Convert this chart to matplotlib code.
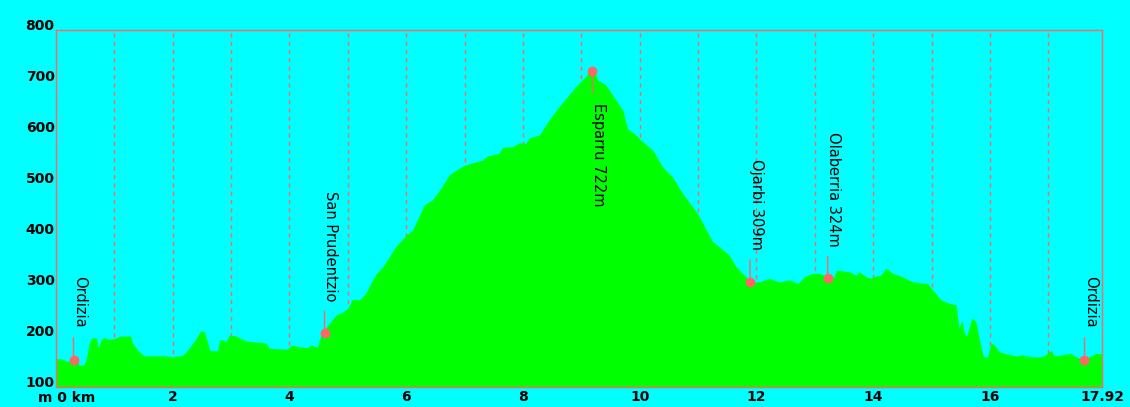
import matplotlib
matplotlib.use('Agg')
import matplotlib.pyplot as plt
import numpy as np

BG = '#00ffff'
FILL = '#00ff00'
RED = '#ff6666'

# elevation profile
dist_km = [0.00, 0.09, 0.17, 0.37, 0.40, 0.48, 0.52, 0.57, 0.62, 0.69, 0.73, 0.77, 0.83, 0.91,
           1.00, 1.11, 1.28, 1.31, 1.40, 1.51, 1.88, 1.97, 2.17, 2.28, 2.40, 2.48, 2.54, 2.60,
           2.64, 2.77, 2.80, 2.85, 2.91, 2.97, 3.08, 3.26, 3.43, 3.60, 3.65, 3.97, 4.03, 4.17,
           4.31, 4.37, 4.48, 4.54, 4.60, 4.68, 4.80, 4.91, 5.00, 5.08, 5.20, 5.31, 5.40, 5.48,
           5.60, 5.82, 6.00, 6.11, 6.31, 6.45, 6.57, 6.74, 6.85, 7.00, 7.31, 7.39, 7.59, 7.65,
           7.82, 7.94, 8.05, 8.11, 8.28, 8.45, 8.62, 8.79, 8.96, 9.08, 9.15, 9.21, 9.28, 9.42,
           9.59, 9.71, 9.79, 9.94, 10.02, 10.22, 10.39, 10.56, 10.73, 10.91, 10.99, 11.14, 11.25,
           11.36, 11.53, 11.65, 11.82, 11.88, 12.05, 12.22, 12.39, 12.56, 12.71, 12.82, 12.96,
           13.11, 13.22, 13.33, 13.37, 13.59, 13.71, 13.76, 13.88, 13.96, 14.02, 14.13, 14.22,
           14.33, 14.50, 14.68, 14.79, 14.93, 15.02, 15.16, 15.30, 15.42, 15.47, 15.52, 15.56,
           15.60, 15.69, 15.76, 15.82, 15.89, 15.96, 16.02, 16.08, 16.16, 16.28, 16.45, 16.56,
           16.68, 16.85, 16.93, 17.05, 17.10, 17.25, 17.39, 17.45, 17.59, 17.70, 17.82, 17.92]
elev_m = [156, 155, 151, 151, 142, 144, 156, 186, 197, 196, 176, 192, 197, 193,
          195, 200, 200, 186, 172, 161, 161, 159, 162, 176, 195, 210, 209, 186,
          171, 171, 192, 193, 188, 202, 200, 190, 188, 186, 176, 174, 182, 179,
          177, 182, 178, 202, 212, 225, 241, 247, 254, 272, 271, 284, 305, 321,
          336, 375, 398, 408, 457, 467, 486, 516, 525, 535, 545, 553, 558, 570,
          571, 579, 578, 589, 594, 624, 650, 673, 696, 709, 725, 722, 702, 692,
          663, 643, 607, 594, 584, 565, 532, 512, 480, 453, 440, 408, 385,
          375, 359, 336, 316, 306, 306, 313, 306, 310, 303, 316, 323,
          322, 313, 316, 329, 326, 319, 326, 316, 313, 317, 319, 333,
          323, 316, 306, 304, 303, 290, 271, 264, 261, 215, 231, 205,
          199, 235, 228, 192, 159, 159, 186, 182, 169, 165, 161, 163,
          159, 159, 161, 172, 161, 163, 166, 161, 153, 159, 166, 165]

# waypoints
wp_names = ['Ordizia', 'San Prudentzio', 'Esparru 722m', 'Ojarbi 309m', 'Olaberria 324m', 'Ordizia']
wp_km = [0.30, 4.60, 9.19, 11.89, 13.22, 17.62]
wp_elev = [153, 205, 720, 306, 313, 153]
wp_below = [False, False, True, False, False, False]

x_ticks = [0, 2, 4, 6, 8, 10, 12, 14, 16, 17.92]
x_labels = ['', '2', '4', '6', '8', '10', '12', '14', '16', '17.92']
y_ticks = [100, 200, 300, 400, 500, 600, 700, 800]

fig = plt.figure(figsize=(11.3, 4.07), dpi=100, facecolor=BG)
ax = fig.add_axes([56 / 1130, 20 / 407, 1046 / 1130, 357 / 407], facecolor=BG)

for k in range(1, 18):
    ax.axvline(k, color=RED, lw=1, linestyle=(0, (3, 3)), zorder=1)

ax.fill_between(dist_km, elev_m, 100, color=FILL, lw=0, zorder=2)

ax.set_xlim(0, 17.92)
ax.set_ylim(100, 800)
for s in ax.spines.values():
    s.set_color(RED)
    s.set_linewidth(1)
    s.set_zorder(5)

ax.set_xticks(x_ticks)
ax.set_xticklabels(x_labels, fontsize=10, fontweight='bold')
ax.set_yticks(y_ticks)
ax.set_yticklabels([str(v) for v in y_ticks], fontsize=10, fontweight='bold')
ax.tick_params(length=0, pad=2)
ax.tick_params(axis='y', pad=1)
for lab in ax.get_yticklabels():
    lab.set_va('baseline')

ax.annotate('m 0 km', xy=(0, 0), xycoords=('data', 'axes fraction'),
            xytext=(8, -3), textcoords='offset points', ha='center', va='top',
            fontsize=10, fontweight='bold')

for name, km, el, below in zip(wp_names, wp_km, wp_elev, wp_below):
    sign = -1 if below else 1
    ax.annotate('', xy=(km, el), xytext=(0, sign * 16), textcoords='offset points',
                arrowprops=dict(arrowstyle='-', color=RED, lw=1, shrinkA=0, shrinkB=0),
                zorder=6)
    ax.plot(km, el, 'o', color=RED, ms=6, zorder=7)
    ax.annotate(name, xy=(km, el), xytext=(-1, sign * 23), textcoords='offset points',
                rotation=270, ha='left', va='top' if below else 'bottom',
                fontsize=10.5, zorder=8)

fig.savefig('out.png', dpi=100, facecolor=BG)
